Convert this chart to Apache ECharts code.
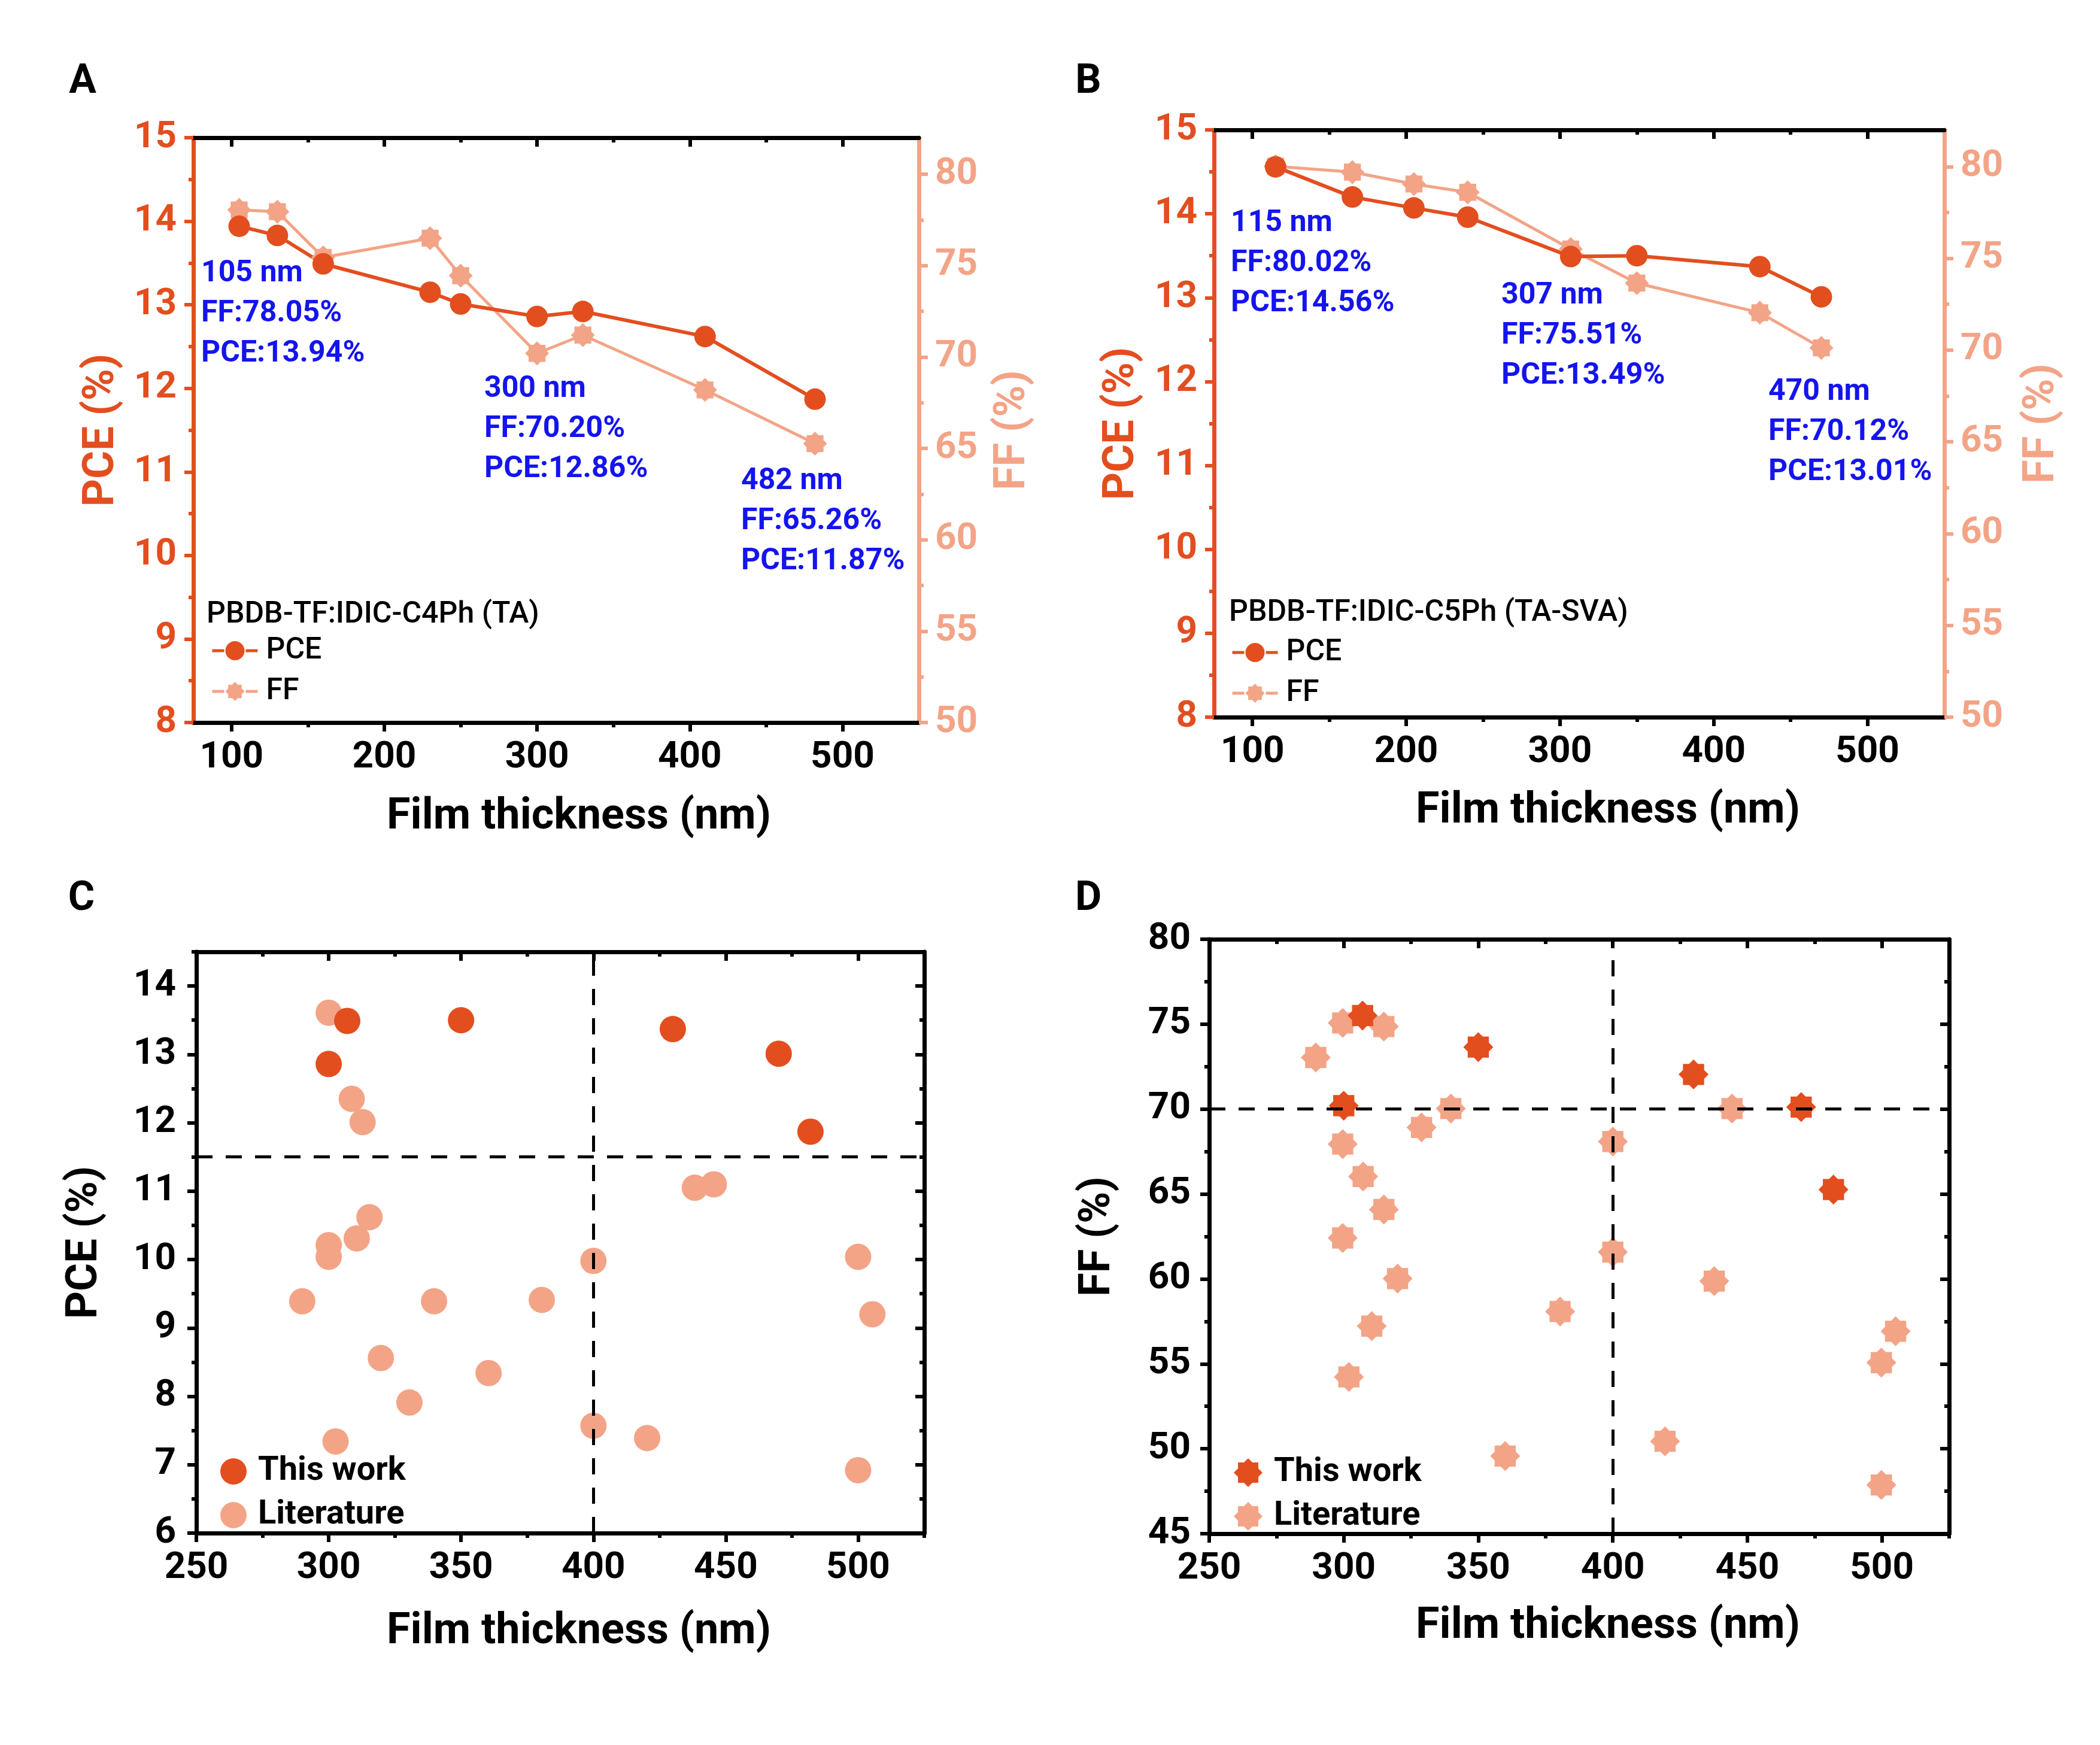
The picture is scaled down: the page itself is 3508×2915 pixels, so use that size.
<!DOCTYPE html>
<html lang="en">
<head>
<meta charset="UTF-8">
<title>PCE / FF vs film thickness</title>
<script src="https://cdn.jsdelivr.net/npm/echarts@6/dist/echarts.min.js"></script>
<style>html,body{margin:0;padding:0;background:#fff;overflow:hidden}</style>
</head>
<body>
<div id="main" style="width:3508px;height:2915px"></div>
<script type="text/javascript">
    // ---- data ----
    // A: PBDB-TF:IDIC-C4Ph (TA)
    var aThick = [105, 130, 160, 230, 250, 300, 330, 410, 482];
    var aPCE = [13.94, 13.83, 13.49, 13.15, 13.01, 12.86, 12.92, 12.62, 11.87];
    var aFF = [78.05, 77.95, 75.45, 76.5, 74.45, 70.20, 71.2, 68.2, 65.26];
    // B: PBDB-TF:IDIC-C5Ph (TA-SVA)
    var bThick = [115, 165, 205, 240, 307, 350, 430, 470];
    var bPCE = [14.56, 14.20, 14.07, 13.96, 13.49, 13.50, 13.37, 13.01];
    var bFF = [80.02, 79.7, 79.05, 78.6, 75.51, 73.65, 72.04, 70.12];
    // C / D: this work
    var workThick = [300, 307, 350, 430, 470, 482];
    var workPCE = [12.86, 13.49, 13.50, 13.37, 13.01, 11.87];
    var workFF = [70.20, 75.51, 73.65, 72.04, 70.12, 65.26];
    // C: literature PCE
    var litPceThick = [300, 308.7, 312.8, 315.4, 310.6, 300, 300, 290, 319.7, 330.5, 302.6, 339.8, 360.4, 380.5, 400, 400, 420.3, 438.3, 445.5, 500, 505.4, 500];
    var litPce = [13.61, 12.35, 12.01, 10.62, 10.31, 10.21, 10.04, 9.39, 8.56, 7.91, 7.34, 9.39, 8.34, 9.41, 9.98, 7.57, 7.39, 11.05, 11.10, 10.04, 9.20, 6.92];
    // D: literature FF
    var litFfThick = [289.6, 299.6, 314.9, 299.6, 307.2, 314.9, 299.6, 320, 310.4, 301.9, 328.9, 339.8, 360, 380.4, 400, 400, 419.4, 437.7, 444.3, 499.8, 505.1, 499.8];
    var litFf = [73.04, 75.07, 74.86, 67.94, 66.03, 64.09, 62.41, 60.02, 57.22, 54.23, 68.92, 70.03, 49.57, 58.08, 68.09, 61.58, 50.44, 59.87, 70.03, 55.07, 56.92, 47.87];
    // reference lines
    var threshThick = 400, threshPce = 11.5, threshFf = 70;

    // tick labels
    var xLabelsAB = [100, 200, 300, 400, 500];
    var xMinorAB = [150, 250, 350, 450];
    var xLabelsCD = [250, 300, 350, 400, 450, 500];
    var xMinorCD = [275, 325, 375, 425, 475, 525];
    var pceLabelsAB = [8, 9, 10, 11, 12, 13, 14, 15];
    var pceMinorAB = [8.5, 9.5, 10.5, 11.5, 12.5, 13.5, 14.5];
    var ffLabelsAB = [50, 55, 60, 65, 70, 75, 80];
    var ffMinorAB = [52.5, 57.5, 62.5, 67.5, 72.5, 77.5];
    var pceLabelsC = [6, 7, 8, 9, 10, 11, 12, 13, 14];
    var pceMinorC = [6.5, 7.5, 8.5, 9.5, 10.5, 11.5, 12.5, 13.5, 14.5];
    var ffLabelsD = [45, 50, 55, 60, 65, 70, 75, 80];
    var ffMinorD = [47.5, 52.5, 57.5, 62.5, 67.5, 72.5, 77.5];

    var DARK = '#E34E1F', LIGHT = '#F3A487', BLUE = '#1414EE';
    var FONT = 'Roboto';
    var STAR = 'path://M50,0L64.64,14.64L85.36,14.64L85.36,35.36L100,50L85.36,64.64L85.36,85.36L64.64,85.36L50,100L35.36,85.36L14.64,85.36L14.64,64.64L0,50L14.64,35.36L14.64,14.64L35.36,14.64Z';

    function zip(a, b) {
        return a.map(function (v, i) { return [v, b[i]]; });
    }
    function merge(a, b) { return Object.assign({}, a, b); }

    var xAxes = [], yAxes = [];
    var MAJ = 15, MIN = 8;

    // bottom axis with labels + minor ticks, mirrored top axis with inward ticks
    function addX(grid, o) {
        var base = {type: 'value', gridIndex: grid, min: o.min, max: o.max, splitLine: {show: false}};
        var line = {onZero: false, lineStyle: {color: '#000', width: 7}};
        var tl = {color: '#000', width: 6};
        var idx = xAxes.length;
        xAxes.push(merge(base, {
            position: 'bottom', axisLine: line,
            name: o.name, nameLocation: 'middle', nameGap: o.nameGap,
            nameTextStyle: {fontFamily: FONT, fontWeight: 'bold', fontSize: 72, color: '#000', padding: [0, 0, 0, o.shift * 2]},
            axisTick: {customValues: o.labels, length: MAJ, lineStyle: tl},
            axisLabel: {customValues: o.labels, margin: 28, fontFamily: FONT, fontWeight: 'bold', fontSize: 62, color: '#000'}
        }));
        xAxes.push(merge(base, {position: 'bottom', axisLine: {show: false, onZero: false},
            axisTick: {customValues: o.minor, length: MIN, lineStyle: tl}, axisLabel: {show: false}}));
        xAxes.push(merge(base, {position: 'top', axisLine: line,
            axisTick: {inside: true, customValues: o.labels, length: MAJ, lineStyle: tl}, axisLabel: {show: false}}));
        xAxes.push(merge(base, {position: 'top', axisLine: {show: false, onZero: false},
            axisTick: {inside: true, customValues: o.minor, length: MIN, lineStyle: tl}, axisLabel: {show: false}}));
        return idx;
    }

    function addY(grid, o) {
        var base = {type: 'value', gridIndex: grid, min: o.min, max: o.max, splitLine: {show: false}, position: o.side};
        var tl = {color: o.color, width: 6};
        var idx = yAxes.length;
        var main = merge(base, {
            axisLine: {onZero: false, lineStyle: {color: o.color, width: 7}},
            axisTick: {inside: !!o.inside, customValues: o.labels, length: MAJ, lineStyle: tl},
            axisLabel: o.name ? {customValues: o.labels, margin: o.margin, fontFamily: FONT, fontWeight: 'bold', fontSize: 62, color: o.color} : {show: false}
        });
        if (o.name) {
            main.name = o.name;
            main.nameLocation = 'middle';
            main.nameGap = o.nameGap;
            main.nameTextStyle = {fontFamily: FONT, fontWeight: 'bold', fontSize: 72, color: o.color};
        }
        yAxes.push(main);
        yAxes.push(merge(base, {axisLine: {show: false, onZero: false},
            axisTick: {inside: !!o.inside, customValues: o.minor, length: MIN, lineStyle: tl}, axisLabel: {show: false}}));
        return idx;
    }

    var grids = [
        {left: 323, top: 230, width: 1212, height: 977, outerBoundsMode: 'none'},
        {left: 2028, top: 217, width: 1220, height: 981, outerBoundsMode: 'none'},
        {left: 328, top: 1590, width: 1216, height: 971, outerBoundsMode: 'none'},
        {left: 2020, top: 1569, width: 1236, height: 993, outerBoundsMode: 'none'}
    ];

    var xA = addX(0, {min: 75, max: 550, labels: xLabelsAB, minor: xMinorAB, name: 'Film thickness (nm)', nameGap: 123, shift: 38});
    var yA = addY(0, {side: 'left', min: 8, max: 15, labels: pceLabelsAB, minor: pceMinorAB, color: DARK, name: 'PCE (%)', nameGap: 116, margin: 28});
    var yA2 = addY(0, {side: 'right', min: 50, max: 82, labels: ffLabelsAB, minor: ffMinorAB, color: LIGHT, name: 'FF (%)', nameGap: 122, margin: 27});

    var xB = addX(1, {min: 75, max: 550, labels: xLabelsAB, minor: xMinorAB, name: 'Film thickness (nm)', nameGap: 122, shift: 48});
    var yB = addY(1, {side: 'left', min: 8, max: 15, labels: pceLabelsAB, minor: pceMinorAB, color: DARK, name: 'PCE (%)', nameGap: 117, margin: 28});
    var yB2 = addY(1, {side: 'right', min: 50, max: 82, labels: ffLabelsAB, minor: ffMinorAB, color: LIGHT, name: 'FF (%)', nameGap: 128, margin: 27});

    var xC = addX(2, {min: 250, max: 525, labels: xLabelsCD, minor: xMinorCD, name: 'Film thickness (nm)', nameGap: 130, shift: 31});
    var yC = addY(2, {side: 'left', min: 6, max: 14.5, labels: pceLabelsC, minor: pceMinorC, color: '#000', name: 'PCE (%)', nameGap: 149, margin: 34});
    addY(2, {side: 'right', min: 6, max: 14.5, labels: pceLabelsC, minor: pceMinorC, color: '#000', inside: true});

    var xD = addX(3, {min: 250, max: 525, labels: xLabelsCD, minor: xMinorCD, name: 'Film thickness (nm)', nameGap: 120, shift: 48});
    var yD = addY(3, {side: 'left', min: 45, max: 80, labels: ffLabelsD, minor: ffMinorD, color: '#000', name: 'FF (%)', nameGap: 149, margin: 31});
    addY(3, {side: 'right', min: 45, max: 80, labels: ffLabelsD, minor: ffMinorD, color: '#000', inside: true});

    var dashed = {type: [27, 22], color: '#000', width: 5};

    var series = [
        {name: 'FF-A', type: 'line', xAxisIndex: xA, yAxisIndex: yA2, data: zip(aThick, aFF),
            symbol: STAR, symbolSize: 40, itemStyle: {color: LIGHT}, lineStyle: {color: LIGHT, width: 5}},
        {name: 'PCE-A', type: 'line', xAxisIndex: xA, yAxisIndex: yA, data: zip(aThick, aPCE),
            symbol: 'circle', symbolSize: 36, itemStyle: {color: DARK}, lineStyle: {color: DARK, width: 6}},
        {name: 'FF-B', type: 'line', xAxisIndex: xB, yAxisIndex: yB2, data: zip(bThick, bFF),
            symbol: STAR, symbolSize: 40, itemStyle: {color: LIGHT}, lineStyle: {color: LIGHT, width: 5}},
        {name: 'PCE-B', type: 'line', xAxisIndex: xB, yAxisIndex: yB, data: zip(bThick, bPCE),
            symbol: 'circle', symbolSize: 36, itemStyle: {color: DARK}, lineStyle: {color: DARK, width: 6}},
        {name: 'Literature-C', type: 'scatter', xAxisIndex: xC, yAxisIndex: yC, data: zip(litPceThick, litPce),
            symbol: 'circle', symbolSize: 44, itemStyle: {color: LIGHT, opacity: 1},
            markLine: {silent: true, symbol: 'none', label: {show: false}, lineStyle: dashed,
                data: [{xAxis: threshThick}, {yAxis: threshPce}]}},
        {name: 'This work-C', type: 'scatter', xAxisIndex: xC, yAxisIndex: yC, data: zip(workThick, workPCE),
            symbol: 'circle', symbolSize: 44, itemStyle: {color: DARK, opacity: 1}},
        {name: 'Literature-D', type: 'scatter', xAxisIndex: xD, yAxisIndex: yD, data: zip(litFfThick, litFf),
            symbol: STAR, symbolSize: 50, itemStyle: {color: LIGHT, opacity: 1},
            markLine: {silent: true, symbol: 'none', label: {show: false}, lineStyle: dashed,
                data: [{xAxis: threshThick}, {yAxis: threshFf}]}},
        {name: 'This work-D', type: 'scatter', xAxisIndex: xD, yAxisIndex: yD, data: zip(workThick, workFF),
            symbol: STAR, symbolSize: 50, itemStyle: {color: DARK, opacity: 1}}
    ];

    function legendFmt(n) { return n.split('-')[0]; }
    function lineLegend(names, left, top) {
        return {data: names, left: left, top: top, orient: 'vertical', padding: 0, itemGap: 18,
            itemWidth: 76, itemHeight: 40, selectedMode: false, formatter: legendFmt,
            lineStyle: {type: [20, 36], width: 5},
            textStyle: {fontFamily: FONT, fontSize: 50, fontWeight: 500, color: '#000', lineHeight: 50, padding: [0, 0, 0, 9]}};
    }
    function dotLegend(names, left, top, size) {
        return {data: names, left: left, top: top, orient: 'vertical', padding: 0, itemGap: 17,
            itemWidth: size, itemHeight: size, selectedMode: false, formatter: legendFmt,
            textStyle: {fontFamily: FONT, fontSize: 56, fontWeight: 'bold', color: '#000', lineHeight: 56, padding: [0, 0, 0, 14]}};
    }

    function txt(x, y, s, font, color, va) {
        return {type: 'text', x: x, y: y, silent: true,
            style: {text: s, font: font, fill: color, align: va ? 'center' : 'left', verticalAlign: va || 'top', lineHeight: 67}};
    }
    var noteFont = 'bold 50px ' + FONT;
    var graphics = [
        txt(138, 138, 'A', 'bold 68px ' + FONT, '#000', 'middle'),
        txt(1818, 138, 'B', 'bold 68px ' + FONT, '#000', 'middle'),
        txt(136, 1503, 'C', 'bold 68px ' + FONT, '#000', 'middle'),
        txt(1818, 1503, 'D', 'bold 68px ' + FONT, '#000', 'middle'),
        txt(336, 424, '105 nm\nFF:78.05%\nPCE:13.94%', noteFont, BLUE),
        txt(809, 617, '300 nm\nFF:70.20%\nPCE:12.86%', noteFont, BLUE),
        txt(1238, 771, '482 nm\nFF:65.26%\nPCE:11.87%', noteFont, BLUE),
        txt(2056, 340, '115 nm\nFF:80.02%\nPCE:14.56%', noteFont, BLUE),
        txt(2508, 461, '307 nm\nFF:75.51%\nPCE:13.49%', noteFont, BLUE),
        txt(2954, 622, '470 nm\nFF:70.12%\nPCE:13.01%', noteFont, BLUE),
        txt(345, 994, 'PBDB-TF:IDIC-C4Ph (TA)', '500 50px ' + FONT, '#000'),
        txt(2053, 991, 'PBDB-TF:IDIC-C5Ph (TA-SVA)', '500 50px ' + FONT, '#000')
    ];

    var myChart = echarts.init(document.getElementById('main'));
    myChart.setOption({
        animation: false,
        backgroundColor: '#fff',
        grid: grids,
        xAxis: xAxes,
        yAxis: yAxes,
        legend: [
            lineLegend(['PCE-A', 'FF-A'], 352, 1062),
            lineLegend(['PCE-B', 'FF-B'], 2056, 1065),
            dotLegend(['This work-C', 'Literature-C'], 368, 2430, 44),
            dotLegend(['This work-D', 'Literature-D'], 2061, 2432, 48)
        ],
        series: series,
        graphic: graphics
    });
</script>
</body>
</html>
